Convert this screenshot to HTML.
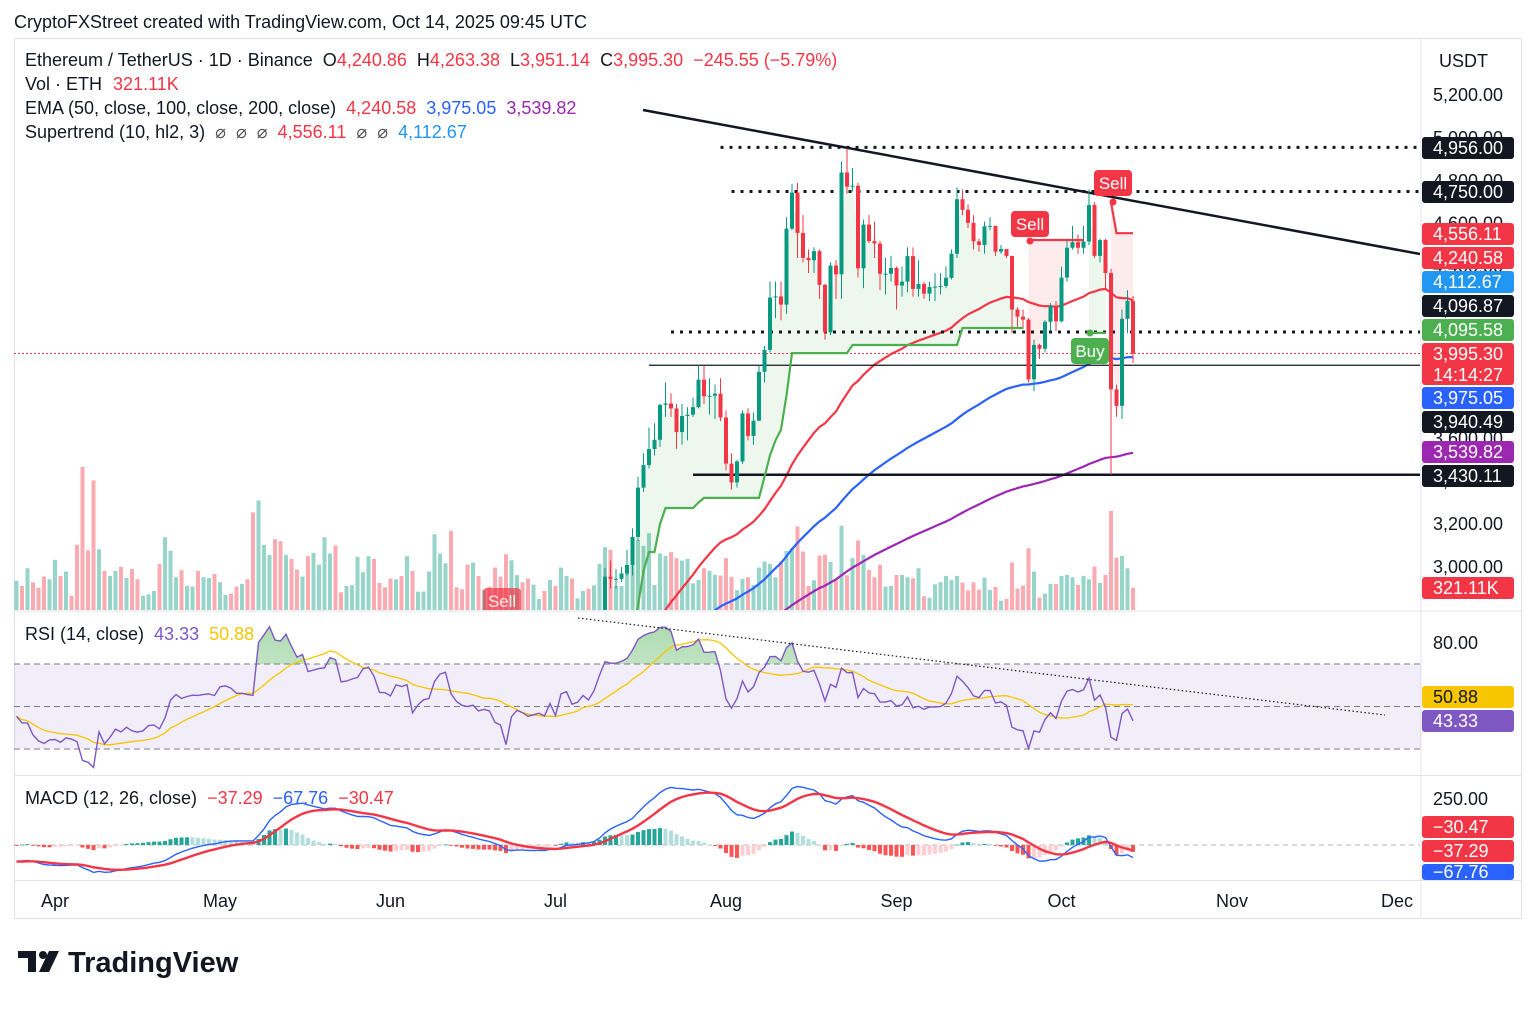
<!DOCTYPE html>
<html><head><meta charset="utf-8">
<style>
html,body{margin:0;padding:0;background:#fff;}
body{width:1536px;height:1004px;overflow:hidden;font-family:"Liberation Sans",sans-serif;}
svg text{font-family:"Liberation Sans",sans-serif;}
#legendG text{white-space:pre;}
</style></head>
<body>
<svg id="chart" width="1536" height="1004" xmlns="http://www.w3.org/2000/svg">
<text x="14" y="28" font-size="18" fill="#131722">CryptoFXStreet created with TradingView.com, Oct 14, 2025 09:45 UTC</text>
<rect x="14.5" y="38.5" width="1507" height="880" fill="none" stroke="#e0e3eb"/>
<line x1="1421" y1="38" x2="1421" y2="918" stroke="#e0e3eb"/>
<line x1="14" y1="611" x2="1522" y2="611" stroke="#e0e3eb"/>
<line x1="14" y1="775.5" x2="1522" y2="775.5" stroke="#e0e3eb"/>
<line x1="14" y1="880.5" x2="1522" y2="880.5" stroke="#e0e3eb"/>
<defs>
<clipPath id="pclip"><rect x="14" y="39" width="1407" height="571"/></clipPath>
<clipPath id="rclip"><rect x="14" y="612" width="1407" height="163"/></clipPath>
<clipPath id="mclip"><rect x="14" y="776" width="1407" height="104"/></clipPath>
<clipPath id="obclip"><rect x="14" y="612" width="1407" height="52"/></clipPath>
<linearGradient id="obg" x1="0" y1="0" x2="0" y2="1"><stop offset="0" stop-color="#4caf50" stop-opacity="0.45"/><stop offset="1" stop-color="#4caf50" stop-opacity="0.05"/></linearGradient>
</defs>
<g id="volG" clip-path="url(#pclip)"></g>
<g id="fillG" clip-path="url(#pclip)"></g>
<g id="linesG" clip-path="url(#pclip)"></g>
<g id="candG" clip-path="url(#pclip)"></g>
<g id="stG" clip-path="url(#pclip)"></g>
<g id="rsiG" clip-path="url(#rclip)"></g>
<g id="macdG" clip-path="url(#mclip)"></g>
<g id="axisG"></g>
<g id="legendG" font-size="18">
<text x="25" y="66" fill="#131722">Ethereum / TetherUS · 1D · Binance  O<tspan fill="#f23645">4,240.86</tspan>  H<tspan fill="#f23645">4,263.38</tspan>  L<tspan fill="#f23645">3,951.14</tspan>  C<tspan fill="#f23645">3,995.30</tspan>  <tspan fill="#f23645">−245.55 (−5.79%)</tspan></text>
<text x="25" y="90" fill="#131722">Vol · ETH <tspan fill="#f23645" dx="6">321.11K</tspan></text>
<text x="25" y="114" fill="#131722">EMA (50, close, 100, close, 200, close)  <tspan fill="#f23645">4,240.58</tspan>  <tspan fill="#2962ff">3,975.05</tspan>  <tspan fill="#9c27b0">3,539.82</tspan></text>
<text x="25" y="138" fill="#131722">Supertrend (10, hl2, 3)  <tspan fill="#555">⌀  ⌀  ⌀</tspan>  <tspan fill="#f23645">4,556.11</tspan>  <tspan fill="#555">⌀  ⌀</tspan>  <tspan fill="#2196f3">4,112.67</tspan></text>
<text x="25" y="640" fill="#131722">RSI (14, close)  <tspan fill="#7e57c2">43.33</tspan>  <tspan fill="#f7c600">50.88</tspan></text>
<text x="25" y="804" fill="#131722">MACD (12, 26, close)  <tspan fill="#f23645">−37.29</tspan>  <tspan fill="#2962ff">−67.76</tspan>  <tspan fill="#f23645">−30.47</tspan></text>
</g>
<g>
<path d="M18 951 h18 v21 h-8 v-14 h-10 z" fill="#131722"/>
<circle cx="43" cy="955" r="4" fill="#131722"/>
<path d="M49 951 h10 l-10 21 h-10 z" fill="#131722"/>
<text x="68" y="972" font-size="29" font-weight="bold" fill="#131722">TradingView</text>
</g>
</svg>
<script>
// ---------- data (daily, Mar 25 2025 -> Oct 14 2025) ----------
const closes = [2070,2010,2010,1895,1830,1800,1820,
1822,1795,1816,1806,1784,1580,1554,1475,1668,1522,1566,1622,1593,1624,1588,1576,1583,1612,1615,1586,1643,1754,1795,1771,1785,1793,1792,1798,1800,1794,
1838,1843,1835,1818,1818,1814,1812,2205,2353,2582,2512,2506,2680,2610,2545,2590,2480,2500,2520,2530,2670,2660,2520,2528,2550,2565,2660,2680,2630,2530,2528,
2508,2600,2590,2605,2420,2480,2520,2530,2680,2760,2780,2640,2580,2550,2540,2550,2510,2520,2510,2430,2410,2230,2410,2460,2440,2410,2420,2430,2410,2490,
2405,2570,2590,2500,2515,2570,2540,2615,2770,2955,2945,2945,2970,3010,3140,3370,3475,3550,3593,3756,3762,3739,3629,3704,3710,3745,3873,3796,3798,3808,3697,
3482,3394,3492,3716,3611,3682,3910,4012,4256,4261,4223,4577,4745,4557,4441,4430,4472,4315,4094,4405,4364,4839,4773,4777,4392,4596,4519,4508,4367,4367,4394,
4312,4330,4449,4296,4319,4274,4305,4307,4310,4348,4460,4714,4665,4604,4518,4501,4588,4590,4470,4482,4450,4200,4167,4153,3875,4035,4017,4143,4216,4145,
4349,4488,4514,4488,4517,4687,4450,4524,4370,3828,3751,4157,4241,3995];
const HL_START = 98; // highs/lows begin Jul 1
const highs = [2525,2600,2650,2610,2530,2590,2600,2690,2800,2995,3030,2990,3000,3080,3180,3420,3530,3650,3670,3760,3860,3810,3760,3760,3745,3790,3940,3940,3880,3850,3880,
3730,3530,3500,3730,3740,3720,3940,4030,4330,4330,4330,4630,4785,4790,4640,4480,4490,4480,4320,4420,4430,4890,4950,4860,4790,4620,4640,4610,4520,4440,4450,
4400,4400,4490,4490,4430,4330,4330,4370,4370,4400,4480,4770,4760,4690,4640,4530,4610,4630,4590,4500,4480,4450,4210,4200,4160,4060,4040,4150,4230,4240,
4400,4530,4590,4550,4590,4760,4700,4530,4530,4390,3850,4200,4290,4263];
const lows = [2375,2400,2550,2480,2480,2510,2520,2520,2600,2760,2900,2900,2930,2960,2960,3120,3350,3460,3520,3560,3700,3700,3550,3570,3590,3700,3740,3760,3710,3690,3680,
3450,3360,3370,3480,3590,3570,3680,3860,4000,4160,4150,4180,4570,4440,4420,4370,4370,4250,4060,4080,4250,4250,4740,4750,4350,4300,4510,4440,4290,4270,4330,
4200,4260,4280,4260,4260,4250,4240,4240,4270,4300,4340,4440,4640,4580,4480,4470,4460,4570,4450,4460,4440,4090,4120,4110,3860,3820,3970,4000,4100,4100,
4140,4330,4480,4460,4460,4500,4440,4420,4290,3430,3700,3690,4090,3951];
// volume in units of ~4.79K ETH
const volumes = [87,72,125,83,67,100,92,150,102,115,43,195,428,178,388,182,117,102,117,129,96,123,92,43,47,57,138,218,177,98,
119,72,70,117,98,96,108,83,45,49,70,78,92,292,328,195,165,212,206,165,153,121,100,161,171,136,218,169,193,53,
72,74,159,113,161,153,81,68,94,92,102,161,117,55,55,115,227,169,140,237,68,62,136,142,102,60,70,127,100,167,
149,104,83,94,76,33,57,90,72,127,102,94,35,57,64,74,
138,188,180,72,72,120,170,210,192,230,75,169,162,173,155,148,153,80,90,125,117,105,103,155,99,59,93,98,75,127,
145,138,98,145,177,185,250,175,72,89,163,165,144,88,252,104,155,208,165,120,98,135,70,72,105,105,98,95,125,41,
37,77,83,102,90,102,82,58,83,61,97,60,69,28,33,142,64,73,185,115,37,49,78,78,102,105,98,75,102,92,130,81,105,297,157,162,125,67];
const ST_START = 112;
const stValues = [2700,2820,2980,3070,3070,3200,3275,3275,3275,3275,3275,3275,3300,
3322,3322,3322,3322,3322,3322,3322,3322,3322,3322,3322,3420,3520,3590,3640,3800,3997,
3997,3997,3997,3997,3997,3997,3997,3997,3997,3997,
4035,4035,4035,4035,4035,4035,4035,4035,4035,4035,4035,4035,4035,4035,4035,4035,4035,4035,4035,4035,
4114,4114,4114,4114,4114,4114,4114,4114,4114,4114,4114,4114,
4524,4524,4524,4524,4524,4524,4524,4524,4524,4524,4524,
4091,4091,4091,4091,4700,4556,4556,4556,4556];
const stDirs = [1,1,1,1,1,1,1,1,1,1,1,1,1,1,1,1,1,1,1,1,1,1,1,1,1,1,1,1,1,1,1,1,1,1,1,1,1,1,1,1,
1,1,1,1,1,1,1,1,1,1,1,1,1,1,1,1,1,1,1,1,1,1,1,1,1,1,1,1,1,1,1,1,
-1,-1,-1,-1,-1,-1,-1,-1,-1,-1,-1,1,1,1,1,-1,-1,-1,-1,-1];
const emaSeeds = [2300, 2700, 2740];
const emaPeriods = [50, 100, 200];
const emaColors = ['#f23645','#2962ff','#9c27b0'];
const monthLabels = ['Apr','May','Jun','Jul','Aug','Sep','Oct','Nov','Dec'];
const monthDays = [7,37,68,98,129,160,190,221,251];
const priceTicks = [5200,5000,4800,4600,4400,4200,4000,3800,3600,3400,3200,3000];
const hLevels = [4956,4750,4095.58];
const hLevelStart = [128,130,119];

// ---------- scales ----------
const NS='http://www.w3.org/2000/svg';
const X = i => 16.5 + 5.5*i;
const PY = p => 95 + (5200 - p)*0.21455;
const RY = v => 664 + (70 - v)*2.125;
const MY = v => 845 - v*0.184;
function mk(tag, attrs, parent){const e=document.createElementNS(NS,tag);for(const k in attrs)e.setAttribute(k,attrs[k]);parent.appendChild(e);return e;}
const $ = id => document.getElementById(id);
const n = closes.length;
const opens = closes.map((c,i)=> i===0 ? c : closes[i-1]);
const hi = i => i>=HL_START ? highs[i-HL_START] : Math.max(opens[i],closes[i]);
const lo = i => i>=HL_START ? lows[i-HL_START] : Math.min(opens[i],closes[i]);
const UP='#089981', DN='#f23645';

// volume
const vmax = Math.max(...volumes);
volumes.forEach((v,i)=>{
  const h = v/vmax*143;
  const r = mk('rect',{x:X(i)-2,y:610-h,width:4,height:h,fill:closes[i]>=opens[i]?'rgba(8,153,129,0.42)':'rgba(242,54,69,0.42)'},$('volG'));
  
  
});

// EMAs
emaPeriods.forEach((p,k)=>{
  let e = emaSeeds[k]; const a = 2/(p+1); let d='';
  closes.forEach((c,i)=>{ e = e + a*(c-e); d += (i?'L':'M')+X(i).toFixed(1)+' '+PY(e).toFixed(1); });
  const pth = mk('path',{d:d,fill:'none',stroke:emaColors[k],'stroke-width':2.2},$('linesG'));
  
  
});

// horizontal levels / trend line
hLevels.forEach((lv,k)=>{
  const l = mk('line',{x1:X(hLevelStart[k]),x2:1420,y1:PY(lv),y2:PY(lv),stroke:'#131722','stroke-width':3,'stroke-dasharray':'3 6'},$('linesG'));
  
  
});
let l1 = mk('line',{x1:649,x2:1420,y1:PY(3940.49),y2:PY(3940.49),stroke:'#131722','stroke-width':1.3},$('linesG'));


let l2 = mk('line',{x1:693,x2:1420,y1:PY(3430.11),y2:PY(3430.11),stroke:'#131722','stroke-width':2.5},$('linesG'));


let tl = mk('line',{x1:643,y1:110,x2:1420,y2:254,stroke:'#131722','stroke-width':2.5},$('linesG'));


let pl = mk('line',{x1:14,x2:1420,y1:PY(3995.3),y2:PY(3995.3),stroke:'#f23645','stroke-width':1,'stroke-dasharray':'2 2'},$('linesG'));



// supertrend fills + lines
let seg=null;
function flush(){ if(!seg) return;
  const col = seg.dir>0?'#4caf50':'#f23645';
  let fd='M'+seg.pts.map(p=>p[0]+' '+p[1]).join('L')+'L'+seg.mid.slice().reverse().map(p=>p[0]+' '+p[1]).join('L')+'Z';
  const f = mk('path',{d:fd,fill:seg.dir>0?'rgba(76,175,80,0.1)':'rgba(242,54,69,0.1)'},$('fillG'));
  
  
  const ln = mk('path',{d:'M'+seg.pts.map(p=>p[0]+' '+p[1]).join('L'),fill:'none',stroke:col,'stroke-width':2.2},$('stG'));
  
  
  seg=null;}
stValues.forEach((v,k)=>{
  const i=ST_START+k, d=stDirs[k];
  if(seg && seg.dir!==d) flush();
  if(!seg) seg={dir:d,pts:[],mid:[]};
  seg.pts.push([X(i).toFixed(1),PY(v).toFixed(1)]);
  seg.mid.push([X(i).toFixed(1),PY((opens[i]+closes[i])/2).toFixed(1)]);
});
flush();

// candles
for(let i=0;i<n;i++){
  const up = closes[i]>=opens[i], c = up?UP:DN;
  const g = mk('g',{},$('candG'));
  
  
  mk('line',{x1:X(i),x2:X(i),y1:PY(hi(i)),y2:PY(lo(i)),stroke:c,'stroke-width':1},g);
  const t=PY(Math.max(opens[i],closes[i])), b=PY(Math.min(opens[i],closes[i]));
  mk('rect',{x:X(i)-2,y:t,width:4,height:Math.max(1,b-t),fill:c},g);
}

// signal labels
function sig(txt,x,y,col,op,name){
  const g = mk('g',{opacity:op},$('stG'));
  
  
  mk('rect',{x:x-19,y:y-13,width:38,height:26,rx:4,fill:col},g);
  const t=mk('text',{x:x,y:y+6,'font-size':17,fill:'#fff','text-anchor':'middle'},g); t.textContent=txt;
}
sig('Sell',1030,224,'#f23645',1,'sell-signal-label');
sig('Sell',1113,183,'#f23645',1,'sell-signal-label');
sig('Buy',1090,351,'#4caf50',1,'buy-signal-label');
sig('Sell',502,601,'#f23645',0.7,'sell-signal-label');
mk('circle',{cx:1030,cy:241,r:3.5,fill:'#f23645'},$('stG'));
mk('circle',{cx:1113,cy:202,r:3.5,fill:'#f23645'},$('stG'));
mk('circle',{cx:1090,cy:333,r:3.5,fill:'#4caf50'},$('stG'));

// ---------- RSI ----------
const rg=$('rsiG');
mk('rect',{x:14,y:RY(70),width:1407,height:RY(30)-RY(70),fill:'rgba(126,87,194,0.1)'},rg);
[70,50,30].forEach(v=>{ const l=mk('line',{x1:14,x2:1420,y1:RY(v),y2:RY(v),stroke:'#787b86','stroke-width':1,'stroke-dasharray':'6 4'},rg);
  
  });
let ag=30, al=36; const rsi=[];
for(let i=0;i<n;i++){ const ch = i?closes[i]-closes[i-1]:0;
  ag=(ag*13+Math.max(ch,0))/14; al=(al*13+Math.max(-ch,0))/14; rsi.push(100-100/(1+ag/al)); }
const rsiMa = rsi.map((v,i)=>{const s=rsi.slice(Math.max(0,i-13),i+1);return s.reduce((a,b)=>a+b,0)/s.length;});
const rd = rsi.map((v,i)=>(i?'L':'M')+X(i).toFixed(1)+' '+RY(v).toFixed(1)).join('');
const ob = mk('path',{d:rd+'L'+X(n-1)+' '+RY(70)+'L'+X(0)+' '+RY(70)+'Z',fill:'url(#obg)','clip-path':'url(#obclip)'},rg);


const rma = mk('path',{d:rsiMa.map((v,i)=>(i?'L':'M')+X(i).toFixed(1)+' '+RY(v).toFixed(1)).join(''),fill:'none',stroke:'#f7c600','stroke-width':1.3},rg);


const rl = mk('path',{d:rd,fill:'none',stroke:'#7e57c2','stroke-width':1.4},rg);


const rt = mk('line',{x1:578,y1:618,x2:1385,y2:715,stroke:'#131722','stroke-width':1.2,'stroke-dasharray':'1.5 2.5'},rg);



// ---------- MACD ----------
const mg=$('macdG');
let e12=2050,e26=2150,sg=-90; const macd=[],sigl=[];
closes.forEach(c=>{ e12+= (2/13)*(c-e12); e26+=(2/27)*(c-e26); const m=e12-e26; sg+=(2/10)*(m-sg); macd.push(m); sigl.push(sg); });
const hz = mk('line',{x1:14,x2:1420,y1:MY(0),y2:MY(0),stroke:'#b2b5be','stroke-width':1,'stroke-dasharray':'5 4'},mg);


let prevH=0;
macd.forEach((m,i)=>{ const h=m-sigl[i];
  const col = h>=0 ? (h>=prevH?'#26a69a':'#b2dfdb') : (h<=prevH?'#ff5252':'#ffcdd2');
  const y1=MY(Math.max(h,0)), y2=MY(Math.min(h,0));
  const b = mk('rect',{x:X(i)-2,y:y1,width:4,height:Math.max(0.8,y2-y1),fill:col},mg);
  
  
  prevH=h; });
const ml = mk('path',{d:macd.map((v,i)=>(i?'L':'M')+X(i).toFixed(1)+' '+MY(v).toFixed(1)).join(''),fill:'none',stroke:'#2962ff','stroke-width':1.4},mg);


const sl = mk('path',{d:sigl.map((v,i)=>(i?'L':'M')+X(i).toFixed(1)+' '+MY(v).toFixed(1)).join(''),fill:'none',stroke:'#f23645','stroke-width':2.4},mg);



// ---------- axes ----------
const ax=$('axisG');
function txt(s,x,y,attrs,name){const t=mk('text',Object.assign({x:x,y:y,'font-size':18,fill:'#131722'},attrs||{}),ax);t.textContent=s;
  
  return t;}
txt('USDT',1439,67,{},'price-axis-unit');
priceTicks.forEach(p=> txt(p.toLocaleString('en-US',{minimumFractionDigits:2}),1433,PY(p)+6,{},'price-tick-label'));
txt('80.00',1433,649,{},'rsi-tick-label');
txt('250.00',1433,805,{},'macd-tick-label');
monthLabels.forEach((m,k)=> txt(m,X(monthDays[k]),907,{'text-anchor':'middle'},'time-axis-label'));
function tag(s,y,bg,fg,name,h){h=h||22;const g=mk('g',{},ax);
  
  
  mk('rect',{x:1422,y:y-h/2,width:92,height:h,rx:3,fill:bg},g);
  const t=mk('text',{x:1433,y:y+6,'font-size':18,fill:fg},g);t.textContent=s;return g;}
tag('4,956.00',148,'#131722','#fff','level-tag-4956');
tag('4,750.00',192,'#131722','#fff','level-tag-4750');
tag('4,556.11',234,'#f23645','#fff','supertrend-down-tag');
tag('4,240.58',258,'#f23645','#fff','ema50-tag');
tag('4,112.67',282,'#2196f3','#fff','supertrend-up-tag');
tag('4,096.87',306,'#131722','#fff','level-tag-4096');
tag('4,095.58',330,'#4caf50','#fff','level-tag-4095');
const pt=tag('3,995.30',364,'#f23645','#fff','last-price-tag',42);
pt.querySelector('text').setAttribute('y',360);
const cd=mk('text',{x:1433,y:381,'font-size':18,fill:'#fff'},pt);cd.textContent='14:14:27';
tag('3,975.05',398,'#2962ff','#fff','ema100-tag');
tag('3,940.49',422,'#131722','#fff','level-tag-3940');
tag('3,539.82',452,'#9c27b0','#fff','ema200-tag');
tag('3,430.11',476,'#131722','#fff','level-tag-3430');
tag('321.11K',588,'#f23645','#fff','volume-tag');
tag('50.88',697,'#f7c600','#131722','rsi-ma-tag');
tag('43.33',721,'#7e57c2','#fff','rsi-tag');
tag('−30.47',827,'#f23645','#fff','macd-signal-tag');
tag('−37.29',851,'#f23645','#fff','macd-hist-tag');
const mt=tag('−67.76',872,'#2962ff','#fff','macd-tag',16);
</script>
</body></html>
